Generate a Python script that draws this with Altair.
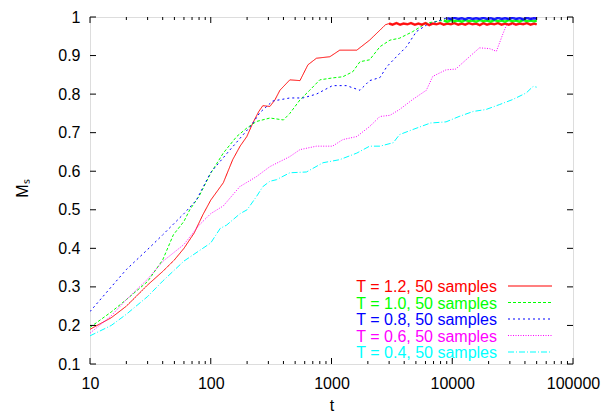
import altair as alt
import pandas as pd

# ---------------- data ----------------
LABELS = ["T = 1.2, 50 samples", "T = 1.0, 50 samples", "T = 0.8, 50 samples",
          "T = 0.6, 50 samples", "T = 0.4, 50 samples"]
COLORS = ["#ff0000", "#00ff00", "#0000ff", "#ff00ff", "#00ffff"]
DASHES = [[1, 0], [3, 2], [2, 3], [1, 1.5], [6, 2, 1, 2]]

TAIL_T = [3000, 3200, 3450, 3700, 3950, 4250, 4550, 4900, 5250, 5600, 6000, 6450,
          6900, 7400, 7950, 8500, 9100, 9750, 10400, 11200, 12000, 12800, 13700,
          14700, 15800, 16900, 18100, 19400, 20800, 22300, 23900, 25600, 27400,
          29400, 31500, 33700, 36100, 38700, 41500, 44500, 47600, 50000]

RED_T = [10, 15, 20, 30, 40, 50, 60, 73, 86, 100, 127, 152, 175, 199, 223, 250,
         270, 309, 340, 374, 452, 548, 638, 750, 970, 1170, 1620, 2070, 2520, 2800]
RED_M = [0.19, 0.22, 0.25, 0.305, 0.34, 0.37, 0.40, 0.44, 0.487, 0.525, 0.57, 0.63,
         0.665, 0.69, 0.725, 0.755, 0.77, 0.768, 0.785, 0.81, 0.837, 0.835, 0.876,
         0.893, 0.897, 0.914, 0.914, 0.94, 0.966, 0.98]
RED_TAIL = [0.983, 0.980, 0.984, 0.980, 0.983, 0.981, 0.984, 0.980, 0.983, 0.980,
            0.984, 0.979, 0.983, 0.981, 0.984, 0.980, 0.983, 0.981, 0.984, 0.980,
            0.983, 0.980, 0.984, 0.981, 0.983, 0.979, 0.984, 0.980, 0.983, 0.981,
            0.984, 0.980, 0.983, 0.980, 0.984, 0.980, 0.983, 0.981, 0.984, 0.980,
            0.983, 0.981]

GREEN_T = [10, 15, 20, 30, 40, 49, 60, 67, 80, 100, 127, 164, 199, 239, 309, 400,
           452, 548, 660, 800, 1020, 1240, 1500, 1720, 2070, 2520, 3050, 3660, 4700,
           6100, 7900]
GREEN_M = [0.195, 0.235, 0.267, 0.314, 0.37, 0.435, 0.47, 0.50, 0.535, 0.595, 0.647,
           0.69, 0.712, 0.729, 0.738, 0.733, 0.75, 0.785, 0.81, 0.837, 0.842, 0.845,
           0.858, 0.884, 0.889, 0.923, 0.94, 0.945, 0.962, 0.984, 0.99]
GREEN_TAIL = [0.991, 0.988, 0.992, 0.989, 0.991, 0.988, 0.992, 0.989, 0.991, 0.988,
              0.992, 0.989, 0.991, 0.988, 0.992, 0.989, 0.991, 0.988, 0.992, 0.989,
              0.991, 0.988, 0.992, 0.989, 0.991, 0.989, 0.990]

BLUE_T = [10, 15, 20, 30, 40, 60, 76, 100, 144, 218, 255, 326, 452, 580, 750, 1020,
          1330, 1720, 2070, 2520, 2870, 3450, 4180, 5040, 6100, 8880]
BLUE_M = [0.236, 0.30, 0.345, 0.397, 0.435, 0.49, 0.525, 0.597, 0.655, 0.72, 0.752,
          0.782, 0.79, 0.79, 0.80, 0.822, 0.822, 0.81, 0.835, 0.843, 0.871, 0.897,
          0.923, 0.962, 0.979, 0.997]
BLUE_TAIL = [0.997, 0.995, 0.998, 0.995, 0.997, 0.994, 0.998, 0.995, 0.997, 0.995,
             0.998, 0.995, 0.997, 0.994, 0.998, 0.995, 0.997, 0.995, 0.998, 0.995,
             0.997, 0.994, 0.998, 0.995, 0.997, 0.996]

MAGENTA_T = [10, 15, 20, 30, 40, 60, 80, 100, 127, 174, 239, 309, 452, 548, 750,
             1020, 1240, 1620, 2070, 2520, 3050, 3660, 4700, 6100, 6900, 8880, 10700,
             13000, 16800, 20400, 23200, 26400, 28200, 32000, 41000, 43700, 50000]
MAGENTA_M = [0.18, 0.225, 0.267, 0.32, 0.366, 0.41, 0.46, 0.49, 0.51, 0.56, 0.586,
             0.612, 0.638, 0.656, 0.665, 0.665, 0.682, 0.69, 0.716, 0.742, 0.745,
             0.76, 0.786, 0.81, 0.846, 0.863, 0.865, 0.889, 0.92, 0.918, 0.911,
             0.958, 0.98, 0.98, 0.985, 0.997, 0.997]

CYAN_T = [10, 15, 20, 30, 40, 60, 100, 120, 135, 175, 200, 240, 270, 309, 350, 452,
          620, 850, 1170, 1620, 2070, 2520, 3250, 3660, 4700, 6600, 8880, 11400,
          14900, 19000, 24700, 31700, 41000, 46700, 50000]
CYAN_M = [0.173, 0.20, 0.229, 0.275, 0.315, 0.367, 0.414, 0.452, 0.46, 0.49, 0.50,
          0.535, 0.56, 0.574, 0.578, 0.596, 0.598, 0.622, 0.63, 0.647, 0.665, 0.665,
          0.674, 0.695, 0.708, 0.725, 0.728, 0.742, 0.755, 0.76, 0.773, 0.786,
          0.803, 0.82, 0.818]

X_MAJOR = [10, 100, 1000, 10000, 100000]
X_MINOR = [m * d for d in [10, 100, 1000, 10000] for m in range(2, 10)]
Y_TICKS = [0.1, 0.2, 0.3, 0.4, 0.5, 0.6, 0.7, 0.8, 0.9, 1.0]

# ---------------- build tables ----------------
series = [
    (LABELS[0], RED_T + TAIL_T, RED_M + RED_TAIL),
    (LABELS[1], GREEN_T + TAIL_T[15:], GREEN_M + GREEN_TAIL),
    (LABELS[2], BLUE_T + TAIL_T[16:], BLUE_M + BLUE_TAIL),
    (LABELS[3], MAGENTA_T, MAGENTA_M),
    (LABELS[4], CYAN_T, CYAN_M),
]
rows = []
for name, ts, ms in series:
    for t, m in zip(ts, ms):
        rows.append({"series": name, "t": t, "M": m})
df = pd.DataFrame(rows)
legend_df = pd.DataFrame({"series": LABELS})

tails = [
    (COLORS[0], TAIL_T, RED_TAIL),
    (COLORS[1], TAIL_T[15:], GREEN_TAIL),
    (COLORS[2], TAIL_T[16:], BLUE_TAIL),
]

W, H = 483, 347
FONT = "Liberation Sans"

xscale = alt.Scale(type="log", domain=[10, 100000])
yscale = alt.Scale(domain=[0.1, 1.0])
cscale = alt.Scale(domain=LABELS, range=COLORS)
dscale = alt.Scale(domain=LABELS, range=DASHES)

XAXIS = alt.Axis(values=X_MAJOR, format="d", ticks=False, tickSize=0,
                 domain=False, grid=False, labelFont=FONT, labelFontSize=16,
                 labelColor="black", labelBaseline="alphabetic",
                 labelPadding=24, title="t", titleFont=FONT,
                 titleFontSize=16, titleFontWeight="normal",
                 titleColor="black", titleBaseline="alphabetic",
                 titleY=46, labelFlush=False)
YAXIS = alt.Axis(values=Y_TICKS, format="~g", ticks=False, tickSize=0,
                 domain=False, grid=False, labelFont=FONT, labelFontSize=16,
                 labelColor="black", labelPadding=10, title="Mₛ",
                 titleFont=FONT, titleFontSize=16,
                 titleFontWeight="normal", titleColor="black",
                 titleAngle=270, titleBaseline="middle", titleAlign="center",
                 titleX=-68, titleY=171, labelFlush=False)

lines = alt.Chart(df).mark_line(strokeWidth=1, clip=True).encode(
    x=alt.X("t:Q", scale=xscale, axis=XAXIS),
    y=alt.Y("M:Q", scale=yscale, axis=YAXIS),
    color=alt.Color("series:N", scale=cscale, legend=None),
    strokeDash=alt.StrokeDash("series:N", scale=dscale, legend=None),
)

tail_layers = []
for c, ts, ms in tails:
    tdf = pd.DataFrame({"t": ts, "M": ms})
    tail_layers.append(
        alt.Chart(tdf).mark_line(strokeWidth=2.5, color=c, opacity=0.85, clip=True).encode(
            x=alt.X("t:Q", scale=xscale, axis=XAXIS),
            y=alt.Y("M:Q", scale=yscale, axis=YAXIS)))

xmaj = pd.DataFrame({"t": X_MAJOR})
xmin = pd.DataFrame({"t": X_MINOR})
yt = pd.DataFrame({"M": Y_TICKS})

def xticks(data, y0, y1):
    return alt.Chart(data).mark_rule(color="black", strokeWidth=1).encode(
        x=alt.X("t:Q", scale=xscale, axis=XAXIS),
        y=alt.value(y0), y2=alt.value(y1))

def yticks(x0, x1):
    return alt.Chart(yt).mark_rule(color="black", strokeWidth=1).encode(
        y=alt.Y("M:Q", scale=yscale, axis=YAXIS),
        x=alt.value(x0), x2=alt.value(x1))

plot = alt.layer(
    lines,
    *tail_layers,
    xticks(xmaj, H, H - 6), xticks(xmin, H, H - 3),
    xticks(xmaj, 0, 6), xticks(xmin, 0, 3),
    yticks(0, 6), yticks(W, W - 6),
)

# legend (key) inside the plot, bottom right, as in gnuplot
rowpos = alt.Scale(type="point", domain=LABELS, range=[269, 335], padding=0)
key_text = alt.Chart(legend_df).mark_text(
    align="right", baseline="middle", font=FONT, fontSize=16, dy=1
).encode(
    y=alt.Y("series:N", scale=rowpos, axis=None),
    x=alt.value(407),
    text="series:N",
    color=alt.Color("series:N", scale=cscale, legend=None),
)
key_line = alt.Chart(legend_df).mark_rule(strokeWidth=1.2).encode(
    y=alt.Y("series:N", scale=rowpos, axis=None),
    x=alt.value(418), x2=alt.value(462),
    color=alt.Color("series:N", scale=cscale, legend=None),
    strokeDash=alt.StrokeDash("series:N", scale=dscale, legend=None),
)
key = alt.layer(key_text, key_line)

chart = alt.layer(plot, key).resolve_scale(y="independent").properties(
    width=W, height=H,
    autosize=alt.AutoSizeParams(type="none"),
    padding={"left": 90, "top": 17, "right": 42, "bottom": 48},
).configure_view(stroke="black", strokeWidth=1).configure(background="white")

chart.save("out.html", embed_options={"renderer": "svg", "actions": False})
